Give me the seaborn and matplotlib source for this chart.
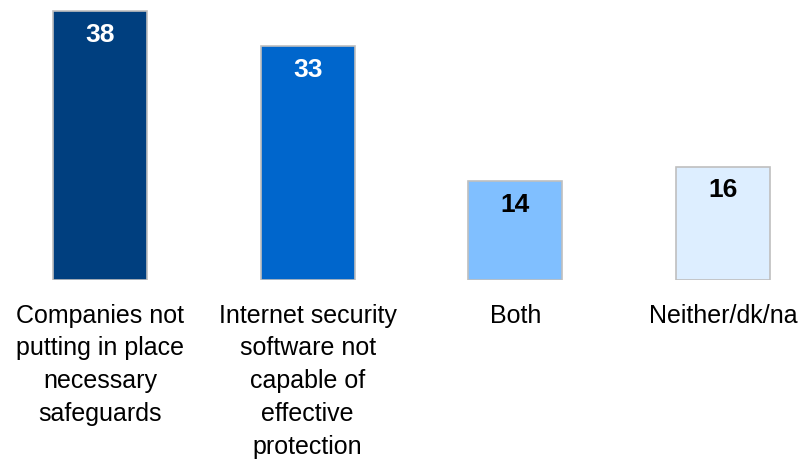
import matplotlib
matplotlib.use("Agg")
import matplotlib.pyplot as plt
import seaborn as sns
import pandas as pd

categories = [
    "Companies not\nputting in place\nnecessary\nsafeguards",
    "Internet security\nsoftware not\ncapable of\neffective\nprotection",
    "Both",
    "Neither/dk/na",
]
values = [38, 33, 14, 16]
bar_colors = ["#003F7F", "#0066CC", "#80BFFF", "#DDEEFF"]
label_colors = ["white", "white", "black", "black"]

sns.set_theme(style="white")
plt.rcParams["font.family"] = ["Liberation Sans", "DejaVu Sans"]

df = pd.DataFrame({"category": categories, "value": values})

fig = plt.figure(figsize=(7.99, 4.61), dpi=100)
ax = fig.add_axes([0, (461 - 280) / 461, 1, 280 / 461])

sns.barplot(data=df, x="category", y="value", hue="category",
            palette=bar_colors, saturation=1, width=0.453,
            edgecolor="#BFBFBF", linewidth=1.2, legend=False, ax=ax)

ax.set_xlim(-0.481, 3.366)
ax.set_ylim(0, 39.55)
ax.set_xlabel("")
ax.set_ylabel("")
ax.set_yticks([])
ax.set_xticks([])
for s in ax.spines.values():
    s.set_visible(False)

for i, (v, c) in enumerate(zip(values, label_colors)):
    ax.text(i, v - 1.65, str(v), ha="center", va="top", color=c,
            fontsize=19, fontweight="bold")

for i, cat in enumerate(categories):
    ax.annotate(cat, xy=(i, 0), xycoords="data", xytext=(0, -17),
                textcoords="offset points", ha="center", va="top",
                fontsize=18, linespacing=1.46, color="black")

fig.savefig("out.png", dpi=100, facecolor="white")
